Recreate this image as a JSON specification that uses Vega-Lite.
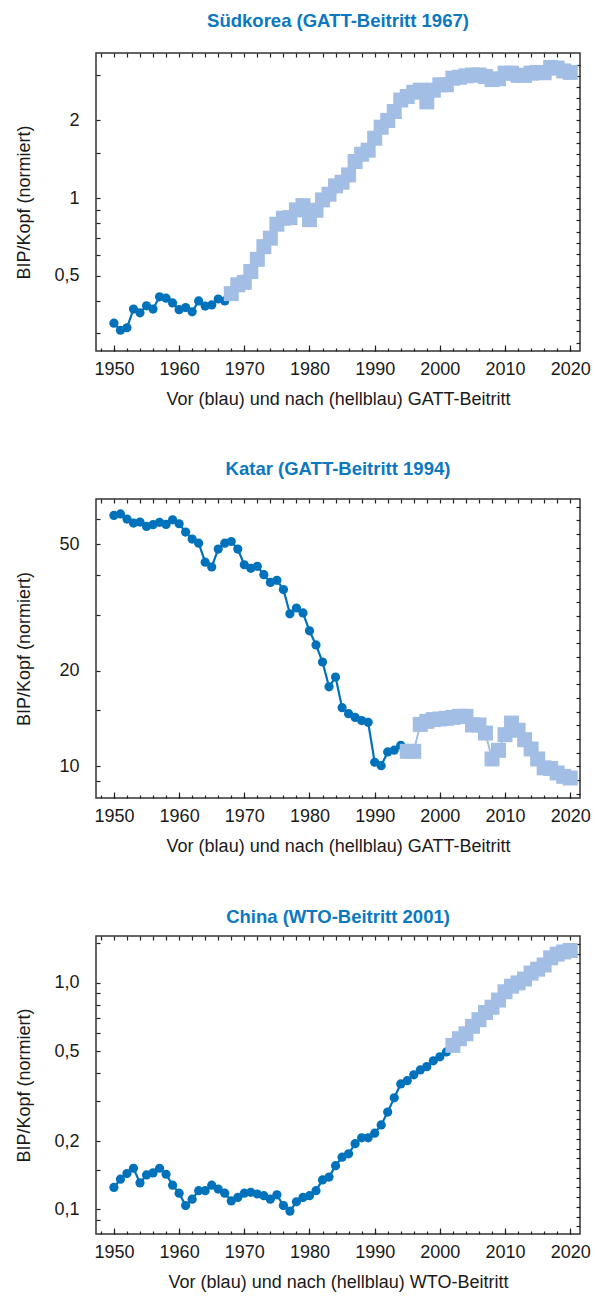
{
  "$schema": "https://vega.github.io/schema/vega-lite/v6.json",
  "padding": {"left": 15, "top": 11, "right": 5, "bottom": 0},
  "background": "white",
  "spacing": 50,
  "config": {
    "font": "Liberation Sans",
    "view": {"stroke": "#333333", "strokeWidth": 1.5},
    "axis": {"domain": false, "grid": false, "tickColor": "#222222", "tickWidth": 1.2, "labelColor": "#1a1a1a", "labelFontSize": 18, "titleColor": "#1a1a1a", "titleFontSize": 18, "titleFontWeight": "normal", "labelFont": "Liberation Sans", "titleFont": "Liberation Sans", "labelFlush": false, "labelOverlap": false},
    "title": {"color": "#0b78c0", "fontSize": 18.5, "fontWeight": "bold", "frame": "group", "anchor": "middle", "offset": 22}
  },
  "vconcat": [
    {
      "width": 484, "height": 298,
      "title": {"text": "Südkorea (GATT-Beitritt 1967)", "offset": 22},
      "data": {"values": [
        {"year": 1950, "value": 0.328, "phase": "vor"}, {"year": 1951, "value": 0.308, "phase": "vor"}, {"year": 1952, "value": 0.315, "phase": "vor"}, {"year": 1953, "value": 0.372, "phase": "vor"}, {"year": 1954, "value": 0.360, "phase": "vor"}, {"year": 1955, "value": 0.383, "phase": "vor"}, {"year": 1956, "value": 0.372, "phase": "vor"}, {"year": 1957, "value": 0.415, "phase": "vor"}, {"year": 1958, "value": 0.410, "phase": "vor"}, {"year": 1959, "value": 0.393, "phase": "vor"}, {"year": 1960, "value": 0.370, "phase": "vor"}, {"year": 1961, "value": 0.377, "phase": "vor"}, {"year": 1962, "value": 0.363, "phase": "vor"}, {"year": 1963, "value": 0.400, "phase": "vor"}, {"year": 1964, "value": 0.382, "phase": "vor"}, {"year": 1965, "value": 0.386, "phase": "vor"}, {"year": 1966, "value": 0.407, "phase": "vor"}, {"year": 1967, "value": 0.400, "phase": "vor"},
        {"year": 1968, "value": 0.427, "phase": "nach"}, {"year": 1969, "value": 0.462, "phase": "nach"}, {"year": 1970, "value": 0.472, "phase": "nach"}, {"year": 1971, "value": 0.520, "phase": "nach"}, {"year": 1972, "value": 0.580, "phase": "nach"}, {"year": 1973, "value": 0.649, "phase": "nach"}, {"year": 1974, "value": 0.700, "phase": "nach"}, {"year": 1975, "value": 0.793, "phase": "nach"}, {"year": 1976, "value": 0.836, "phase": "nach"}, {"year": 1977, "value": 0.841, "phase": "nach"}, {"year": 1978, "value": 0.901, "phase": "nach"}, {"year": 1979, "value": 0.936, "phase": "nach"}, {"year": 1980, "value": 0.826, "phase": "nach"}, {"year": 1981, "value": 0.898, "phase": "nach"}, {"year": 1982, "value": 0.985, "phase": "nach"}, {"year": 1983, "value": 1.036, "phase": "nach"}, {"year": 1984, "value": 1.116, "phase": "nach"}, {"year": 1985, "value": 1.153, "phase": "nach"}, {"year": 1986, "value": 1.231, "phase": "nach"}, {"year": 1987, "value": 1.387, "phase": "nach"}, {"year": 1988, "value": 1.48, "phase": "nach"}, {"year": 1989, "value": 1.534, "phase": "nach"}, {"year": 1990, "value": 1.707, "phase": "nach"}, {"year": 1991, "value": 1.883, "phase": "nach"}, {"year": 1992, "value": 2.0, "phase": "nach"}, {"year": 1993, "value": 2.166, "phase": "nach"}, {"year": 1994, "value": 2.40, "phase": "nach"}, {"year": 1995, "value": 2.476, "phase": "nach"}, {"year": 1996, "value": 2.573, "phase": "nach"}, {"year": 1997, "value": 2.62, "phase": "nach"}, {"year": 1998, "value": 2.36, "phase": "nach"}, {"year": 1999, "value": 2.62, "phase": "nach"}, {"year": 2000, "value": 2.748, "phase": "nach"}, {"year": 2001, "value": 2.75, "phase": "nach"}, {"year": 2002, "value": 2.916, "phase": "nach"}, {"year": 2003, "value": 2.94, "phase": "nach"}, {"year": 2004, "value": 2.977, "phase": "nach"}, {"year": 2005, "value": 3.0, "phase": "nach"}, {"year": 2006, "value": 3.0, "phase": "nach"}, {"year": 2007, "value": 2.96, "phase": "nach"}, {"year": 2008, "value": 2.88, "phase": "nach"}, {"year": 2009, "value": 2.90, "phase": "nach"}, {"year": 2010, "value": 3.05, "phase": "nach"}, {"year": 2011, "value": 3.05, "phase": "nach"}, {"year": 2012, "value": 2.99, "phase": "nach"}, {"year": 2013, "value": 2.99, "phase": "nach"}, {"year": 2014, "value": 3.05, "phase": "nach"}, {"year": 2015, "value": 3.07, "phase": "nach"}, {"year": 2016, "value": 3.06, "phase": "nach"}, {"year": 2017, "value": 3.21, "phase": "nach"}, {"year": 2018, "value": 3.19, "phase": "nach"}, {"year": 2019, "value": 3.11, "phase": "nach"}, {"year": 2020, "value": 3.07, "phase": "nach"}
      ]},
      "resolve": {"axis": {"x": "independent", "y": "independent"}},
      "layer": [
        {
          "transform": [{"filter": "datum.phase === 'vor'"}],
          "mark": {"type": "line", "color": "#0072bb", "strokeWidth": 2.2},
          "encoding": {
            "x": {"field": "year", "type": "quantitative", "scale": {"domain": [1947.25, 2021.5], "nice": false, "zero": false},
                  "axis": {"orient": "bottom", "values": [1948,1950,1952,1954,1956,1958,1960,1962,1964,1966,1968,1970,1972,1974,1976,1978,1980,1982,1984,1986,1988,1990,1992,1994,1996,1998,2000,2002,2004,2006,2008,2010,2012,2014,2016,2018,2020], "labelExpr": "datum.value % 10 === 0 ? '' + datum.value : ''", "tickSize": -3, "labelPadding": 12, "title": "Vor (blau) und nach (hellblau) GATT-Beitritt", "titlePadding": 12}},
            "y": {"field": "value", "type": "quantitative", "scale": {"type": "log", "domain": [0.256, 3.65], "nice": false},
                  "axis": {"orient": "left", "values": [0.3,0.4,0.5,0.6,0.7,0.8,0.9,1,1.5,2,3], "labelExpr": "datum.value === 0.5 ? '0,5' : datum.value === 1 ? '1' : datum.value === 2 ? '2' : ''", "tickSize": -4, "labelPadding": 21, "title": "BIP/Kopf (normiert)", "titlePadding": 20}}
          }
        },
        {
          "transform": [{"filter": "datum.phase === 'vor'"}],
          "mark": {"type": "point", "shape": "circle", "filled": true, "size": 85, "color": "#0072bb", "opacity": 1},
          "encoding": {
            "x": {"field": "year", "type": "quantitative", "axis": {"orient": "top", "values": [1948,1950,1952,1954,1956,1958,1960,1962,1964,1966,1968,1970,1972,1974,1976,1978,1980,1982,1984,1986,1988,1990,1992,1994,1996,1998,2000,2002,2004,2006,2008,2010,2012,2014,2016,2018,2020], "labels": false, "tickSize": -4, "title": null}},
            "y": {"field": "value", "type": "quantitative", "axis": {"orient": "right", "values": [0.27602,0.30475,0.33647,0.37150,0.41017,0.45286,0.5,0.55204,0.60950,0.67295,0.74300,0.82034,0.90572,1,1.10409,1.21901,1.34590,1.48599,1.64067,1.81145,2,2.20817,2.43802,2.69180,2.97198,3.28134], "labels": false, "tickSize": -4, "title": null}}
          }
        },
        {
          "transform": [{"filter": "datum.phase === 'nach'"}],
          "mark": {"type": "line", "color": "#a2bee5", "strokeWidth": 2},
          "encoding": {
            "x": {"field": "year", "type": "quantitative", "axis": {"orient": "bottom", "values": [1950,1960,1970,1980,1990,2000,2010,2020], "labels": false, "tickSize": -6, "title": null}},
            "y": {"field": "value", "type": "quantitative", "axis": null}
          }
        },
        {
          "transform": [{"filter": "datum.phase === 'nach'"}],
          "mark": {"type": "point", "shape": "square", "filled": true, "size": 225, "color": "#a2bee5", "opacity": 1},
          "encoding": {
            "x": {"field": "year", "type": "quantitative", "axis": null},
            "y": {"field": "value", "type": "quantitative", "axis": null}
          }
        }
      ]
    },
    {
      "width": 484, "height": 299,
      "title": {"text": "Katar (GATT-Beitritt 1994)", "offset": 20},
      "data": {"values": [
        {"year": 1950, "value": 61.6, "phase": "vor"}, {"year": 1951, "value": 62.3, "phase": "vor"}, {"year": 1952, "value": 60.0, "phase": "vor"}, {"year": 1953, "value": 58.3, "phase": "vor"}, {"year": 1954, "value": 58.7, "phase": "vor"}, {"year": 1955, "value": 56.9, "phase": "vor"}, {"year": 1956, "value": 57.6, "phase": "vor"}, {"year": 1957, "value": 58.6, "phase": "vor"}, {"year": 1958, "value": 57.7, "phase": "vor"}, {"year": 1959, "value": 59.7, "phase": "vor"}, {"year": 1960, "value": 58.0, "phase": "vor"}, {"year": 1961, "value": 54.6, "phase": "vor"}, {"year": 1962, "value": 51.9, "phase": "vor"}, {"year": 1963, "value": 50.4, "phase": "vor"}, {"year": 1964, "value": 43.9, "phase": "vor"}, {"year": 1965, "value": 42.4, "phase": "vor"}, {"year": 1966, "value": 48.3, "phase": "vor"}, {"year": 1967, "value": 50.4, "phase": "vor"}, {"year": 1968, "value": 51.0, "phase": "vor"}, {"year": 1969, "value": 48.3, "phase": "vor"}, {"year": 1970, "value": 43.1, "phase": "vor"}, {"year": 1971, "value": 42.0, "phase": "vor"}, {"year": 1972, "value": 42.6, "phase": "vor"}, {"year": 1973, "value": 40.1, "phase": "vor"}, {"year": 1974, "value": 37.9, "phase": "vor"}, {"year": 1975, "value": 38.5, "phase": "vor"}, {"year": 1976, "value": 36.0, "phase": "vor"}, {"year": 1977, "value": 30.2, "phase": "vor"}, {"year": 1978, "value": 31.5, "phase": "vor"}, {"year": 1979, "value": 30.4, "phase": "vor"}, {"year": 1980, "value": 26.7, "phase": "vor"}, {"year": 1981, "value": 24.1, "phase": "vor"}, {"year": 1982, "value": 21.3, "phase": "vor"}, {"year": 1983, "value": 17.8, "phase": "vor"}, {"year": 1984, "value": 19.1, "phase": "vor"}, {"year": 1985, "value": 15.3, "phase": "vor"}, {"year": 1986, "value": 14.65, "phase": "vor"}, {"year": 1987, "value": 14.26, "phase": "vor"}, {"year": 1988, "value": 13.93, "phase": "vor"}, {"year": 1989, "value": 13.76, "phase": "vor"}, {"year": 1990, "value": 10.3, "phase": "vor"}, {"year": 1991, "value": 10.05, "phase": "vor"}, {"year": 1992, "value": 11.1, "phase": "vor"}, {"year": 1993, "value": 11.24, "phase": "vor"}, {"year": 1994, "value": 11.65, "phase": "vor"},
        {"year": 1995, "value": 11.15, "phase": "nach"}, {"year": 1996, "value": 11.15, "phase": "nach"}, {"year": 1997, "value": 13.55, "phase": "nach"}, {"year": 1998, "value": 13.85, "phase": "nach"}, {"year": 1999, "value": 14.03, "phase": "nach"}, {"year": 2000, "value": 14.1, "phase": "nach"}, {"year": 2001, "value": 14.16, "phase": "nach"}, {"year": 2002, "value": 14.26, "phase": "nach"}, {"year": 2003, "value": 14.37, "phase": "nach"}, {"year": 2004, "value": 14.37, "phase": "nach"}, {"year": 2005, "value": 13.5, "phase": "nach"}, {"year": 2006, "value": 13.5, "phase": "nach"}, {"year": 2007, "value": 12.73, "phase": "nach"}, {"year": 2008, "value": 10.55, "phase": "nach"}, {"year": 2009, "value": 11.23, "phase": "nach"}, {"year": 2010, "value": 12.58, "phase": "nach"}, {"year": 2011, "value": 13.68, "phase": "nach"}, {"year": 2012, "value": 12.99, "phase": "nach"}, {"year": 2013, "value": 12.13, "phase": "nach"}, {"year": 2014, "value": 11.34, "phase": "nach"}, {"year": 2015, "value": 10.55, "phase": "nach"}, {"year": 2016, "value": 9.89, "phase": "nach"}, {"year": 2017, "value": 9.85, "phase": "nach"}, {"year": 2018, "value": 9.53, "phase": "nach"}, {"year": 2019, "value": 9.30, "phase": "nach"}, {"year": 2020, "value": 9.19, "phase": "nach"}
      ]},
      "resolve": {"axis": {"x": "independent", "y": "independent"}},
      "layer": [
        {
          "transform": [{"filter": "datum.phase === 'vor'"}],
          "mark": {"type": "line", "color": "#0072bb", "strokeWidth": 2.2},
          "encoding": {
            "x": {"field": "year", "type": "quantitative", "scale": {"domain": [1947.25, 2021.5], "nice": false, "zero": false},
                  "axis": {"orient": "bottom", "values": [1948,1950,1952,1954,1956,1958,1960,1962,1964,1966,1968,1970,1972,1974,1976,1978,1980,1982,1984,1986,1988,1990,1992,1994,1996,1998,2000,2002,2004,2006,2008,2010,2012,2014,2016,2018,2020], "labelExpr": "datum.value % 10 === 0 ? '' + datum.value : ''", "tickSize": -3, "labelPadding": 12, "title": "Vor (blau) und nach (hellblau) GATT-Beitritt", "titlePadding": 12}},
            "y": {"field": "value", "type": "quantitative", "scale": {"type": "log", "domain": [7.95, 69.4], "nice": false},
                  "axis": {"orient": "left", "values": [9,10,15,20,30,40,50,60], "labelExpr": "datum.value === 10 ? '10' : datum.value === 20 ? '20' : datum.value === 50 ? '50' : ''", "tickSize": -4, "labelPadding": 21, "title": "BIP/Kopf (normiert)", "titlePadding": 25}}
          }
        },
        {
          "transform": [{"filter": "datum.phase === 'vor'"}],
          "mark": {"type": "point", "shape": "circle", "filled": true, "size": 85, "color": "#0072bb", "opacity": 1},
          "encoding": {
            "x": {"field": "year", "type": "quantitative", "axis": {"orient": "top", "values": [1948,1950,1952,1954,1956,1958,1960,1962,1964,1966,1968,1970,1972,1974,1976,1978,1980,1982,1984,1986,1988,1990,1992,1994,1996,1998,2000,2002,2004,2006,2008,2010,2012,2014,2016,2018,2020], "labels": false, "tickSize": -4, "title": null}},
            "y": {"field": "value", "type": "quantitative", "axis": {"orient": "right", "values": [8.2034,9.0572,10,11.0409,12.1901,13.4590,14.8599,16.4067,18.1145,20,22.0817,24.3802,26.9180,29.7198,32.8134,36.2289,40,44.1635,48.7605,53.8361,59.4397,65.6268], "labels": false, "tickSize": -4, "title": null}}
          }
        },
        {
          "transform": [{"filter": "datum.phase === 'nach'"}],
          "mark": {"type": "line", "color": "#a2bee5", "strokeWidth": 2},
          "encoding": {
            "x": {"field": "year", "type": "quantitative", "axis": {"orient": "bottom", "values": [1950,1960,1970,1980,1990,2000,2010,2020], "labels": false, "tickSize": -6, "title": null}},
            "y": {"field": "value", "type": "quantitative", "axis": null}
          }
        },
        {
          "transform": [{"filter": "datum.phase === 'nach'"}],
          "mark": {"type": "point", "shape": "square", "filled": true, "size": 225, "color": "#a2bee5", "opacity": 1},
          "encoding": {
            "x": {"field": "year", "type": "quantitative", "axis": null},
            "y": {"field": "value", "type": "quantitative", "axis": null}
          }
        }
      ]
    },
    {
      "width": 484, "height": 298,
      "title": {"text": "China (WTO-Beitritt 2001)", "offset": 8},
      "data": {"values": [
        {"year": 1950, "value": 0.125, "phase": "vor"}, {"year": 1951, "value": 0.136, "phase": "vor"}, {"year": 1952, "value": 0.144, "phase": "vor"}, {"year": 1953, "value": 0.152, "phase": "vor"}, {"year": 1954, "value": 0.131, "phase": "vor"}, {"year": 1955, "value": 0.142, "phase": "vor"}, {"year": 1956, "value": 0.145, "phase": "vor"}, {"year": 1957, "value": 0.152, "phase": "vor"}, {"year": 1958, "value": 0.143, "phase": "vor"}, {"year": 1959, "value": 0.128, "phase": "vor"}, {"year": 1960, "value": 0.118, "phase": "vor"}, {"year": 1961, "value": 0.104, "phase": "vor"}, {"year": 1962, "value": 0.111, "phase": "vor"}, {"year": 1963, "value": 0.121, "phase": "vor"}, {"year": 1964, "value": 0.121, "phase": "vor"}, {"year": 1965, "value": 0.128, "phase": "vor"}, {"year": 1966, "value": 0.123, "phase": "vor"}, {"year": 1967, "value": 0.118, "phase": "vor"}, {"year": 1968, "value": 0.109, "phase": "vor"}, {"year": 1969, "value": 0.113, "phase": "vor"}, {"year": 1970, "value": 0.118, "phase": "vor"}, {"year": 1971, "value": 0.119, "phase": "vor"}, {"year": 1972, "value": 0.117, "phase": "vor"}, {"year": 1973, "value": 0.115, "phase": "vor"}, {"year": 1974, "value": 0.111, "phase": "vor"}, {"year": 1975, "value": 0.116, "phase": "vor"}, {"year": 1976, "value": 0.104, "phase": "vor"}, {"year": 1977, "value": 0.0983, "phase": "vor"}, {"year": 1978, "value": 0.108, "phase": "vor"}, {"year": 1979, "value": 0.113, "phase": "vor"}, {"year": 1980, "value": 0.115, "phase": "vor"}, {"year": 1981, "value": 0.121, "phase": "vor"}, {"year": 1982, "value": 0.135, "phase": "vor"}, {"year": 1983, "value": 0.139, "phase": "vor"}, {"year": 1984, "value": 0.156, "phase": "vor"}, {"year": 1985, "value": 0.170, "phase": "vor"}, {"year": 1986, "value": 0.176, "phase": "vor"}, {"year": 1987, "value": 0.195, "phase": "vor"}, {"year": 1988, "value": 0.207, "phase": "vor"}, {"year": 1989, "value": 0.207, "phase": "vor"}, {"year": 1990, "value": 0.217, "phase": "vor"}, {"year": 1991, "value": 0.236, "phase": "vor"}, {"year": 1992, "value": 0.269, "phase": "vor"}, {"year": 1993, "value": 0.311, "phase": "vor"}, {"year": 1994, "value": 0.358, "phase": "vor"}, {"year": 1995, "value": 0.370, "phase": "vor"}, {"year": 1996, "value": 0.393, "phase": "vor"}, {"year": 1997, "value": 0.413, "phase": "vor"}, {"year": 1998, "value": 0.427, "phase": "vor"}, {"year": 1999, "value": 0.453, "phase": "vor"}, {"year": 2000, "value": 0.472, "phase": "vor"}, {"year": 2001, "value": 0.496, "phase": "vor"},
        {"year": 2002, "value": 0.530, "phase": "nach"}, {"year": 2003, "value": 0.567, "phase": "nach"}, {"year": 2004, "value": 0.596, "phase": "nach"}, {"year": 2005, "value": 0.643, "phase": "nach"}, {"year": 2006, "value": 0.688, "phase": "nach"}, {"year": 2007, "value": 0.740, "phase": "nach"}, {"year": 2008, "value": 0.781, "phase": "nach"}, {"year": 2009, "value": 0.840, "phase": "nach"}, {"year": 2010, "value": 0.914, "phase": "nach"}, {"year": 2011, "value": 0.967, "phase": "nach"}, {"year": 2012, "value": 1.0, "phase": "nach"}, {"year": 2013, "value": 1.04, "phase": "nach"}, {"year": 2014, "value": 1.105, "phase": "nach"}, {"year": 2015, "value": 1.150, "phase": "nach"}, {"year": 2016, "value": 1.20, "phase": "nach"}, {"year": 2017, "value": 1.29, "phase": "nach"}, {"year": 2018, "value": 1.34, "phase": "nach"}, {"year": 2019, "value": 1.37, "phase": "nach"}, {"year": 2020, "value": 1.39, "phase": "nach"}
      ]},
      "resolve": {"axis": {"x": "independent", "y": "independent"}},
      "layer": [
        {
          "transform": [{"filter": "datum.phase === 'vor'"}],
          "mark": {"type": "line", "color": "#0072bb", "strokeWidth": 2.2},
          "encoding": {
            "x": {"field": "year", "type": "quantitative", "scale": {"domain": [1947.25, 2021.5], "nice": false, "zero": false},
                  "axis": {"orient": "bottom", "values": [1948,1950,1952,1954,1956,1958,1960,1962,1964,1966,1968,1970,1972,1974,1976,1978,1980,1982,1984,1986,1988,1990,1992,1994,1996,1998,2000,2002,2004,2006,2008,2010,2012,2014,2016,2018,2020], "labelExpr": "datum.value % 10 === 0 ? '' + datum.value : ''", "tickSize": -3, "labelPadding": 12, "title": "Vor (blau) und nach (hellblau) WTO-Beitritt", "titlePadding": 12}},
            "y": {"field": "value", "type": "quantitative", "scale": {"type": "log", "domain": [0.0779, 1.611], "nice": false},
                  "axis": {"orient": "left", "values": [0.09,0.1,0.15,0.2,0.3,0.4,0.5,0.6,0.7,0.8,0.9,1,1.5], "labelExpr": "datum.value === 0.1 ? '0,1' : datum.value === 0.2 ? '0,2' : datum.value === 0.5 ? '0,5' : datum.value === 1 ? '1,0' : ''", "tickSize": -4, "labelPadding": 21, "title": "BIP/Kopf (normiert)", "titlePadding": 20}}
          }
        },
        {
          "transform": [{"filter": "datum.phase === 'vor'"}],
          "mark": {"type": "point", "shape": "circle", "filled": true, "size": 85, "color": "#0072bb", "opacity": 1},
          "encoding": {
            "x": {"field": "year", "type": "quantitative", "axis": {"orient": "top", "values": [1948,1950,1952,1954,1956,1958,1960,1962,1964,1966,1968,1970,1972,1974,1976,1978,1980,1982,1984,1986,1988,1990,1992,1994,1996,1998,2000,2002,2004,2006,2008,2010,2012,2014,2016,2018,2020], "labels": false, "tickSize": -4, "title": null}},
            "y": {"field": "value", "type": "quantitative", "axis": {"orient": "right", "values": [0.08412,0.09288,0.10254,0.11321,0.125,0.13801,0.15238,0.16824,0.18575,0.20508,0.22643,0.25,0.27602,0.30475,0.33647,0.37150,0.41017,0.45286,0.5,0.55204,0.60950,0.67295,0.74300,0.82034,0.90572,1,1.10409,1.21901,1.34590,1.48599], "labels": false, "tickSize": -4, "title": null}}
          }
        },
        {
          "transform": [{"filter": "datum.phase === 'nach'"}],
          "mark": {"type": "line", "color": "#a2bee5", "strokeWidth": 2},
          "encoding": {
            "x": {"field": "year", "type": "quantitative", "axis": {"orient": "bottom", "values": [1950,1960,1970,1980,1990,2000,2010,2020], "labels": false, "tickSize": -6, "title": null}},
            "y": {"field": "value", "type": "quantitative", "axis": null}
          }
        },
        {
          "transform": [{"filter": "datum.phase === 'nach'"}],
          "mark": {"type": "point", "shape": "square", "filled": true, "size": 225, "color": "#a2bee5", "opacity": 1},
          "encoding": {
            "x": {"field": "year", "type": "quantitative", "axis": null},
            "y": {"field": "value", "type": "quantitative", "axis": null}
          }
        }
      ]
    }
  ]
}
